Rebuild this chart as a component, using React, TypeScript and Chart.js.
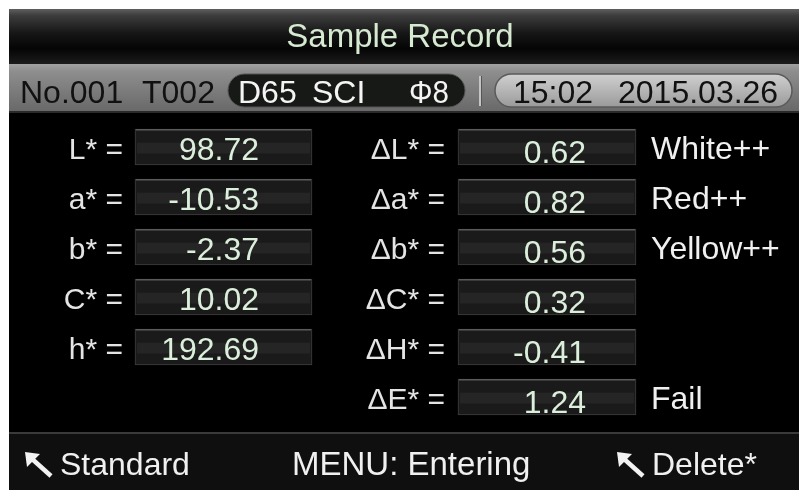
import React, { useEffect, useRef } from "react";
import { Chart, registerables } from "chart.js";

Chart.register(...registerables);

// ---------- data ----------
const TITLE = "Sample Record";
const RECORD_INFO = ["No.001", "T002"];
const MODE_INFO = ["D65", "SCI", "Φ8"];
const DATE_INFO = ["15:02", "2015.03.26"];
const ROW_KEYS = ["L", "a", "b", "C", "h", "E"];
const ABS_LABELS: (string | null)[] = ["L* =", "a* =", "b* =", "C* =", "h* =", null];
const ABS_VALUES: (number | null)[] = [98.72, -10.53, -2.37, 10.02, 192.69, null];
const DELTA_LABELS = ["ΔL* =", "Δa* =", "Δb* =", "ΔC* =", "ΔH* =", "ΔE* ="];
const DELTA_VALUES = [0.62, 0.82, 0.56, 0.32, -0.41, 1.24];
const VERDICTS = ["White++", "Red++", "Yellow++", "", "", "Fail"];
const FOOTER = ["Standard", "MENU: Entering", "Delete*"];

// ---------- layout constants ----------
const W = 799;
const H = 490;
const LEFT_BOX: [number, number] = [135, 312];
const RIGHT_BOX: [number, number] = [458, 636];
const FONT = '"Liberation Sans", Arial, sans-serif';

function txt(
  ctx: CanvasRenderingContext2D,
  s: string,
  x: number,
  y: number,
  size: number,
  color: string,
  align: CanvasTextAlign = "left"
) {
  ctx.font = `${size}px ${FONT}`;
  ctx.fillStyle = color;
  ctx.textAlign = align;
  ctx.textBaseline = "alphabetic";
  ctx.fillText(s, x, y);
}

function pill(ctx: CanvasRenderingContext2D, x0: number, y0: number, x1: number, y1: number) {
  const r = (y1 - y0) / 2;
  ctx.beginPath();
  ctx.moveTo(x0 + r, y0);
  ctx.lineTo(x1 - r, y0);
  ctx.arc(x1 - r, y0 + r, r, -Math.PI / 2, Math.PI / 2);
  ctx.lineTo(x0 + r, y1);
  ctx.arc(x0 + r, y0 + r, r, Math.PI / 2, (3 * Math.PI) / 2);
  ctx.closePath();
}

function arrow(ctx: CanvasRenderingContext2D, x: number, y: number) {
  ctx.save();
  ctx.fillStyle = "#f2f2f2";
  ctx.strokeStyle = "#f2f2f2";
  ctx.beginPath();
  ctx.moveTo(x, y);
  ctx.lineTo(x + 15, y + 2);
  ctx.lineTo(x + 2, y + 15);
  ctx.closePath();
  ctx.fill();
  ctx.lineWidth = 4.5;
  ctx.lineCap = "butt";
  ctx.beginPath();
  ctx.moveTo(x + 6, y + 6);
  ctx.lineTo(x + 26, y + 24);
  ctx.stroke();
  ctx.restore();
}

const screenPlugin = {
  id: "screen",
  beforeDraw(chart: any) {
    const ctx: CanvasRenderingContext2D = chart.ctx;
    ctx.save();
    ctx.fillStyle = "#ffffff";
    ctx.fillRect(0, 0, W, H);
    // body
    ctx.fillStyle = "#000000";
    ctx.fillRect(9, 9, W - 9, H - 9);

    // title bar
    let g = ctx.createLinearGradient(0, 9, 0, 64);
    g.addColorStop(0, "#5f5f5f");
    g.addColorStop(0.12, "#3c3c3c");
    g.addColorStop(0.45, "#151515");
    g.addColorStop(0.72, "#050505");
    g.addColorStop(1, "#1c1c1c");
    ctx.fillStyle = g;
    ctx.fillRect(9, 9, W - 9, 55);
    txt(ctx, TITLE, 400, 47, 33, "#d6e9d1", "center");

    // info bar
    g = ctx.createLinearGradient(0, 64, 0, 112);
    g.addColorStop(0, "#a2a2a2");
    g.addColorStop(0.15, "#8e8e8e");
    g.addColorStop(1, "#686868");
    ctx.fillStyle = g;
    ctx.fillRect(9, 64, W - 9, 48);
    ctx.fillStyle = "#2a2a2a";
    ctx.fillRect(9, 111, W - 9, 2);
    txt(ctx, RECORD_INFO[0], 20, 103, 32, "#111111");
    txt(ctx, RECORD_INFO[1], 142, 103, 32, "#111111");

    // mode pill
    pill(ctx, 228, 74, 465, 107);
    ctx.fillStyle = "#171917";
    ctx.fill();
    ctx.strokeStyle = "#555555";
    ctx.lineWidth = 1;
    ctx.stroke();
    txt(ctx, MODE_INFO[0], 238, 103, 32, "#f4f4f4");
    txt(ctx, MODE_INFO[1], 312, 103, 32, "#f4f4f4");
    ctx.font = `32px ${FONT}`;
    ctx.fillStyle = "#f4f4f4";
    ctx.textAlign = "left";
    ctx.fillText(MODE_INFO[2], 409, 103, 40);

    // separator
    ctx.fillStyle = "#c4c4c4";
    ctx.fillRect(479, 76, 2, 30);
    ctx.fillStyle = "#555555";
    ctx.fillRect(481, 76, 1, 30);

    // date pill
    pill(ctx, 495, 74, 792, 107);
    g = ctx.createLinearGradient(0, 74, 0, 107);
    g.addColorStop(0, "#d0d0d0");
    g.addColorStop(1, "#9a9a9a");
    ctx.fillStyle = g;
    ctx.fill();
    ctx.strokeStyle = "#5a5a5a";
    ctx.lineWidth = 1.5;
    ctx.stroke();
    txt(ctx, DATE_INFO[0], 513, 103, 32, "#111111");
    txt(ctx, DATE_INFO[1], 618, 103, 32, "#111111");

    // footer
    ctx.fillStyle = "#0f0f0f";
    ctx.fillRect(9, 433, W - 9, H - 433);
    ctx.fillStyle = "#3a3a3a";
    ctx.fillRect(9, 432, W - 9, 2);
    arrow(ctx, 25, 452);
    txt(ctx, FOOTER[0], 60, 475, 32, "#f0f0f0");
    txt(ctx, FOOTER[1], 292, 475, 33, "#f0f0f0");
    arrow(ctx, 617, 452);
    txt(ctx, FOOTER[2], 652, 475, 32, "#f0f0f0");
    ctx.restore();
  },
  afterDatasetsDraw(chart: any) {
    const ctx: CanvasRenderingContext2D = chart.ctx;
    const yScale = chart.scales.y;
    ctx.save();
    // box shading
    chart.data.datasets.forEach((_: any, di: number) => {
      const meta = chart.getDatasetMeta(di);
      meta.data.forEach((el: any, i: number) => {
        const raw = chart.data.datasets[di].data[i];
        if (raw == null) return;
        const x0 = Math.min(el.x, el.base);
        const x1 = Math.max(el.x, el.base);
        const top = el.y - el.height / 2;
        ctx.fillStyle = "rgba(255,255,255,0.05)";
        ctx.fillRect(x0 + 2, top + el.height * 0.38, x1 - x0 - 4, el.height * 0.3);
        ctx.fillStyle = "#5a5a5a";
        ctx.fillRect(x0 + 1, top, x1 - x0 - 2, 1.5);
      });
    });

    const leftMeta = chart.getDatasetMeta(0);
    const rightMeta = chart.getDatasetMeta(1);
    ROW_KEYS.forEach((_, i) => {
      const cy = yScale.getPixelForValue(i);
      const lbl = ABS_LABELS[i];
      const v = ABS_VALUES[i];
      const lEl = leftMeta.data[i];
      const lBase = lEl ? Math.min(lEl.x, lEl.base) : LEFT_BOX[0];
      if (lbl) txt(ctx, lbl, lBase - 12, cy + 12, 30, "#e4e4e4", "right");
      if (v != null) txt(ctx, v.toFixed(2), lBase + 124, cy + 13, 32, "#dcefdc", "right");

      const rEl = rightMeta.data[i];
      const rBase = Math.min(rEl.x, rEl.base);
      const rEnd = Math.max(rEl.x, rEl.base);
      txt(ctx, DELTA_LABELS[i], rBase - 13, cy + 12, 30, "#e4e4e4", "right");
      txt(ctx, DELTA_VALUES[i].toFixed(2), rBase + 128, cy + 16, 32, "#dcefdc", "right");
      if (VERDICTS[i]) txt(ctx, VERDICTS[i], rEnd + 15, cy + 12, 32, "#f0f0f0", "left");
    });
    ctx.restore();
  },
};

export default function App() {
  const ref = useRef<HTMLCanvasElement>(null);
  useEffect(() => {
    if (!ref.current) return;
    const chart = new Chart(ref.current, {
      type: "bar",
      data: {
        labels: ROW_KEYS,
        datasets: [
          {
            label: "values",
            data: ABS_VALUES.map((v) => (v == null ? null : [LEFT_BOX[0], LEFT_BOX[1]])) as any,
            backgroundColor: "#1a1a1a",
            borderColor: "#3e3e3e",
            borderWidth: 1,
            borderSkipped: false,
            barThickness: 36,
            grouped: false,
          } as any,
          {
            label: "differences",
            data: DELTA_VALUES.map(() => [RIGHT_BOX[0], RIGHT_BOX[1]]) as any,
            backgroundColor: "#1a1a1a",
            borderColor: "#3e3e3e",
            borderWidth: 1,
            borderSkipped: false,
            barThickness: 36,
            grouped: false,
          } as any,
        ],
      },
      options: {
        indexAxis: "y",
        responsive: false,
        animation: false,
        devicePixelRatio: 1,
        layout: { padding: { top: 122, bottom: 68, left: 0, right: 0 } },
        scales: {
          x: { type: "linear", min: 0, max: W, display: false },
          y: { type: "category", display: false },
        },
        plugins: { legend: { display: false }, tooltip: { enabled: false }, title: { display: false } },
      },
      plugins: [screenPlugin],
    });
    return () => chart.destroy();
  }, []);
  return (
    <canvas
      ref={ref}
      width={W}
      height={H}
      style={{ position: "fixed", left: 0, top: 0, width: W, height: H, display: "block" }}
    />
  );
}
